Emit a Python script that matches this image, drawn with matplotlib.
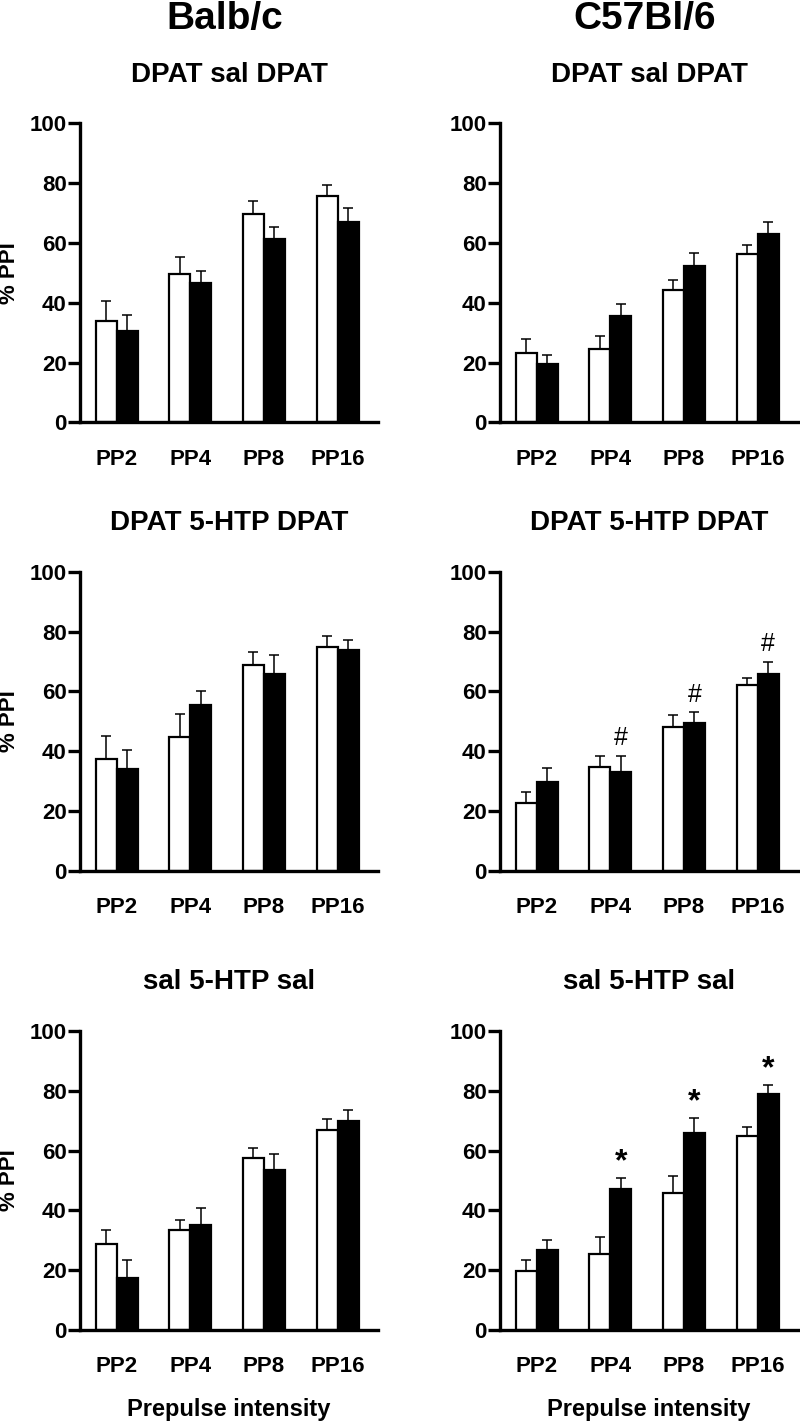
import numpy as np
import matplotlib
matplotlib.use("Agg")
import matplotlib.pyplot as plt

plt.rcParams["font.family"] = ["Liberation Sans", "DejaVu Sans"]
plt.rcParams["font.weight"] = "bold"

groups = ["PP2", "PP4", "PP8", "PP16"]
strains = ["Balb/c", "C57Bl/6"]
titles = ["DPAT sal DPAT", "DPAT 5-HTP DPAT", "sal 5-HTP sal"]

# Balb/c, DPAT sal DPAT
balb_dsd_open = [33.9, 49.6, 69.7, 75.7]
balb_dsd_open_sem = [6.7, 5.8, 4.4, 3.6]
balb_dsd_fill = [30.5, 46.5, 61.2, 66.9]
balb_dsd_fill_sem = [5.4, 4.2, 4.2, 4.8]

# C57Bl/6, DPAT sal DPAT
c57_dsd_open = [23.3, 24.6, 44.4, 56.2]
c57_dsd_open_sem = [4.7, 4.3, 3.2, 3.1]
c57_dsd_fill = [19.6, 35.5, 52.4, 63.0]
c57_dsd_fill_sem = [3.0, 4.1, 4.3, 4.1]

# Balb/c, DPAT 5-HTP DPAT
balb_dhd_open = [37.4, 44.6, 68.9, 75.0]
balb_dhd_open_sem = [7.5, 7.8, 4.4, 3.4]
balb_dhd_fill = [34.0, 55.4, 65.8, 73.7]
balb_dhd_fill_sem = [6.3, 4.7, 6.5, 3.6]

# C57Bl/6, DPAT 5-HTP DPAT
c57_dhd_open = [22.6, 34.7, 48.2, 62.1]
c57_dhd_open_sem = [3.8, 3.7, 3.9, 2.3]
c57_dhd_fill = [29.6, 33.1, 49.5, 65.8]
c57_dhd_fill_sem = [4.8, 5.4, 3.5, 4.0]
c57_dhd_marks = ["", "#", "#", "#"]

# Balb/c, sal 5-HTP sal
balb_shs_open = [28.8, 33.5, 57.5, 66.8]
balb_shs_open_sem = [4.7, 3.2, 3.3, 3.9]
balb_shs_fill = [17.3, 35.2, 53.4, 69.8]
balb_shs_fill_sem = [6.1, 5.6, 5.3, 3.7]

# C57Bl/6, sal 5-HTP sal
c57_shs_open = [19.8, 25.5, 45.9, 64.8]
c57_shs_open_sem = [3.6, 5.7, 5.6, 3.0]
c57_shs_fill = [26.7, 47.2, 66.0, 78.8]
c57_shs_fill_sem = [3.5, 3.5, 4.8, 3.0]
c57_shs_marks = ["", "*", "*", "*"]

panels = [
    [(balb_dsd_open, balb_dsd_open_sem, balb_dsd_fill, balb_dsd_fill_sem, None),
     (c57_dsd_open, c57_dsd_open_sem, c57_dsd_fill, c57_dsd_fill_sem, None)],
    [(balb_dhd_open, balb_dhd_open_sem, balb_dhd_fill, balb_dhd_fill_sem, None),
     (c57_dhd_open, c57_dhd_open_sem, c57_dhd_fill, c57_dhd_fill_sem, c57_dhd_marks)],
    [(balb_shs_open, balb_shs_open_sem, balb_shs_fill, balb_shs_fill_sem, None),
     (c57_shs_open, c57_shs_open_sem, c57_shs_fill, c57_shs_fill_sem, c57_shs_marks)],
]

fig = plt.figure(figsize=(8, 14.23), dpi=100)

lefts = [0.1, 0.625]
bottoms = [0.7032, 0.3881, 0.0654]
w, h = 0.3725, 0.2101
bw = 0.285
x = np.arange(len(groups))

for r in range(3):
    for c in range(2):
        ax = fig.add_axes([lefts[c], bottoms[r], w, h])
        op, op_sem, fi, fi_sem, marks = panels[r][c]
        xo = x - bw / 2
        xf = x + bw / 2
        ax.errorbar(xo, op, yerr=[np.zeros(4), op_sem], fmt="none", ecolor="black",
                    elinewidth=1.1, capsize=3.5, capthick=1.1, zorder=1)
        ax.errorbar(xf, fi, yerr=[np.zeros(4), fi_sem], fmt="none", ecolor="black",
                    elinewidth=1.1, capsize=3.5, capthick=1.1, zorder=1)
        ax.bar(xo, op, bw, color="white", edgecolor="black", linewidth=1.6, zorder=2)
        ax.bar(xf, fi, bw, color="black", edgecolor="black", linewidth=1.6, zorder=2)

        if marks:
            for i, m in enumerate(marks):
                if not m:
                    continue
                top = fi[i] + fi_sem[i]
                if m == "#":
                    ax.annotate(m, (xf[i], top), xytext=(0, 4), textcoords="offset points",
                                ha="center", va="bottom", fontsize=18, fontweight="normal")
                else:
                    ax.annotate(m, (xf[i], top), xytext=(0, 1), textcoords="offset points",
                                ha="center", va="bottom", fontsize=23, fontweight="bold")

        ax.set_xlim(-0.5, 3.55)
        ax.set_ylim(0, 100)
        ax.set_yticks([0, 20, 40, 60, 80, 100])
        ax.set_xticks(x)
        ax.set_xticklabels(groups)
        for s in ["top", "right"]:
            ax.spines[s].set_visible(False)
        for s in ["left", "bottom"]:
            ax.spines[s].set_linewidth(2.4)
        ax.tick_params(axis="y", length=8.5, width=2.4, pad=1, labelsize=16)
        ax.tick_params(axis="x", length=0, pad=19, labelsize=16)
        for lab in ax.get_xticklabels() + ax.get_yticklabels():
            lab.set_fontweight("bold")
        ax.set_title(titles[r], fontsize=20, fontweight="bold", pad=30)
        if c == 0:
            ax.set_ylabel("% PPI", fontsize=16, fontweight="bold", labelpad=7)
        if r == 2:
            ax.set_xlabel("Prepulse intensity", fontsize=17, fontweight="bold", labelpad=15)

for c in range(2):
    fig.text(lefts[c] + w / 2 - 0.005, 1 - 19 / 1423, strains[c], ha="center", va="center",
             fontsize=28, fontweight="bold")

fig.savefig("out.png", dpi=100)
